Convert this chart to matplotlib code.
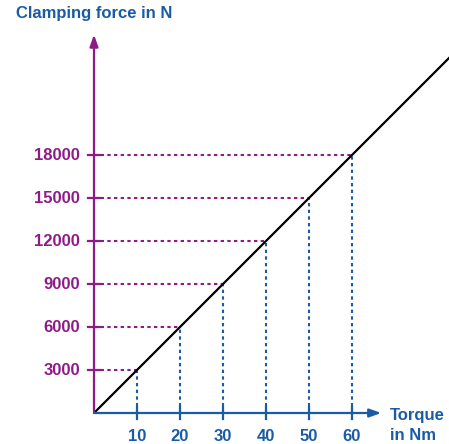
import matplotlib.pyplot as plt
import numpy as np

plt.rcParams['font.family'] = ['Liberation Sans', 'DejaVu Sans']

# torque in Nm and matching clamping force in N
torque = [10, 20, 30, 40, 50, 60]
force = [3000, 6000, 9000, 12000, 15000, 18000]
line_x = [0, 85]
line_y = [0, 300 * 85]

purple = '#8e1b87'
blue = '#1a5ba6'

fig = plt.figure(figsize=(4.49, 4.44), dpi=100)
ax = fig.add_axes([0, 0, 1, 1])
ax.set_xlim(-94 / 4.3, 355 / 4.3)
ax.set_ylim(-31 / 43 * 3000, 413 / 43 * 3000)
ax.axis('off')

# dotted guide lines
for t, f in zip(torque, force):
    ax.plot([0, t], [f, f], color=purple, lw=1.5, ls=(0, (1.6, 1.6)))
    ax.plot([t, t], [0, f], color=blue, lw=1.5, ls=(0, (1.6, 1.6)))

# the characteristic line
ax.plot(line_x, line_y, color='black', lw=1.6, solid_capstyle='butt')

# axes with arrow heads
ax.annotate('', xy=(0, 26400), xytext=(0, 0),
            arrowprops=dict(arrowstyle='-|>,head_length=0.7,head_width=0.25',
                            color=purple, lw=1.6, shrinkA=0, shrinkB=0))
ax.annotate('', xy=(66.8, 0), xytext=(0, 0),
            arrowprops=dict(arrowstyle='-|>,head_length=0.7,head_width=0.25',
                            color=blue, lw=1.6, shrinkA=0, shrinkB=0))

# cross ticks
for f in force:
    ax.plot([-1.4, 1.4], [f, f], color=purple, lw=1.6)
    ax.text(-3.3, f, str(f), color=purple, fontsize=12, fontweight='bold',
            ha='right', va='center')
for t in torque:
    ax.plot([t, t], [-420, 420], color=blue, lw=1.6)
    ax.text(t, -1650, str(t), color=blue, fontsize=12, fontweight='bold',
            ha='center', va='center')

ax.text(-18.2, 27900, 'Clamping force in N', color=blue, fontsize=12,
        fontweight='bold', ha='left', va='center')
ax.text(68.8, -490, 'Torque', color=blue, fontsize=12,
        fontweight='bold', ha='left', va='baseline')
ax.text(68.8, -1880, 'in Nm', color=blue, fontsize=12,
        fontweight='bold', ha='left', va='baseline')

fig.savefig('out.png', dpi=100)
